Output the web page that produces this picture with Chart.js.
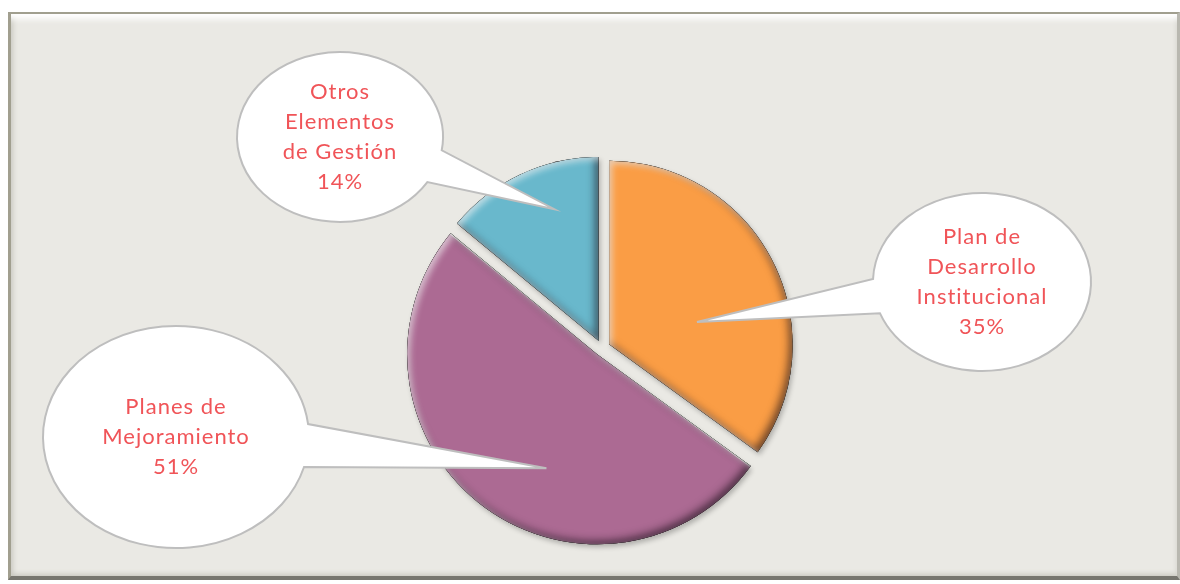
<!DOCTYPE html>
<html>
<head>
<meta charset="utf-8">
<script src="https://cdn.jsdelivr.net/npm/chart.js@4/dist/chart.umd.min.js"></script>
<style>
  html, body { margin: 0; padding: 0; background: #fff; }
  body { width: 1180px; height: 584px; position: relative; overflow: hidden; }
  .frame {
    position: absolute; left: 8px; top: 12px; width: 1166px; height: 562px;
    background: #EAE9E4;
    border-top: 2px solid #A19F8F;
    border-left: 3px solid #A19F8F;
    border-right: 3px solid #B9B8B0;
    border-bottom: 4px solid #77766F;
    box-shadow: inset 0 10px 6px -5px #fff, inset 6px 0 5px -4px #C9C8C0, inset -4px 0 4px -3px #D6D5CF, inset 0 -6px 5px -4px #C9C8C0;
  }
  canvas { position: absolute; left: 0; top: 0; }
</style>
</head>
<body>
<div class="frame"></div>
<canvas id="pieChart" width="1180" height="584"></canvas>
<script>
const labels = ['Plan de Desarrollo Institucional', 'Planes de Mejoramiento', 'Otros Elementos de Gestión'];
const labelLines = [['Plan de', 'Desarrollo', 'Institucional'], ['Planes de', 'Mejoramiento'], ['Otros', 'Elementos', 'de Gestión']];
const shares = [35, 51, 14];
const sliceColors = ['#FA9D45', '#AC6A93', '#69B8CC'];

const TEXT_COLOR = '#F05458';
const FONT = '400 22px Lato, "Open Sans", sans-serif';

// bubble layout for each slice (same order as labels)
const bubbles = [
    { cx: 982, cy: 282, rx: 109, ry: 89,  base: [159.5, 182], tipShift: 12.7,  tipDist: 0.494 },
    { cx: 176, cy: 437, rx: 133, ry: 111, base: [-6.7, 15.7], tipShift: -13.8, tipDist: 0.656 },
    { cx: 340, cy: 137, rx: 103, ry: 85,  base: [9, 32],      tipShift: 6.6,   tipDist: 0.755 }
];

function slicePath(arc) {
    const p = arc.getProps(['x', 'y', 'startAngle', 'endAngle', 'outerRadius'], true);
    const off = (arc.options.offset || 0) / 4;
    const mid = (p.startAngle + p.endAngle) / 2;
    const fix = 1 - Math.sin(Math.min(Math.PI, p.endAngle - p.startAngle));
    const r = p.outerRadius + off * fix;
    const cx = p.x + Math.cos(mid) * off;
    const cy = p.y + Math.sin(mid) * off;
    return { cx, cy, r, start: p.startAngle, end: p.endAngle, mid };
}

const bevelPlugin = {
    id: 'bevel',
    beforeDatasetsDraw(chart) {
        const ctx = chart.ctx;
        ctx.save();
        ctx.shadowColor = 'rgba(0,0,0,0.25)';
        ctx.shadowBlur = 5;
        ctx.shadowOffsetX = 2;
        ctx.shadowOffsetY = 3;
    },
    afterDatasetsDraw(chart) {
        const ctx = chart.ctx;
        ctx.restore();
        chart.getDatasetMeta(0).data.forEach(arc => {
            const s = slicePath(arc);
            const shape = new Path2D();
            shape.moveTo(s.cx, s.cy);
            shape.arc(s.cx, s.cy, s.r, s.start, s.end);
            shape.closePath();
            const hole = new Path2D();
            hole.rect(-2000, -2000, 5000, 5000);
            hole.moveTo(s.cx, s.cy);
            hole.arc(s.cx, s.cy, s.r, s.start, s.end);
            hole.closePath();

            ctx.save();
            ctx.clip(shape);
            ctx.fillStyle = '#000';
            // dark edge, lower right
            ctx.shadowColor = 'rgba(20,10,20,0.65)';
            ctx.shadowBlur = 9;
            ctx.shadowOffsetX = -3;
            ctx.shadowOffsetY = -3;
            ctx.fill(hole, 'evenodd');
            // light edge, upper left
            ctx.shadowColor = 'rgba(255,255,255,0.6)';
            ctx.shadowBlur = 6;
            ctx.shadowOffsetX = 3;
            ctx.shadowOffsetY = 3;
            ctx.fill(hole, 'evenodd');
            ctx.restore();
        });
    }
};

const calloutPlugin = {
    id: 'callouts',
    afterDraw(chart) {
        const ctx = chart.ctx;
        const arcs = chart.getDatasetMeta(0).data;
        bubbles.forEach((b, i) => {
            const s = slicePath(arcs[i]);
            const ang = s.mid + b.tipShift * Math.PI / 180;
            const tipX = s.cx + Math.cos(ang) * s.r * b.tipDist;
            const tipY = s.cy + Math.sin(ang) * s.r * b.tipDist;
            const a0 = b.base[0] * Math.PI / 180;
            const a1 = b.base[1] * Math.PI / 180;

            ctx.save();
            ctx.beginPath();
            ctx.ellipse(b.cx, b.cy, b.rx, b.ry, 0, a1, a0 + Math.PI * 2);
            ctx.lineTo(tipX, tipY);
            ctx.closePath();
            ctx.fillStyle = '#FFFFFF';
            ctx.fill();
            ctx.lineWidth = 2;
            ctx.strokeStyle = '#BEBEBE';
            ctx.stroke();

            const lines = labelLines[i].concat([shares[i] + '%']);
            const lh = 30;
            ctx.fillStyle = TEXT_COLOR;
            ctx.font = FONT;
            ctx.letterSpacing = '1px';
            ctx.textAlign = 'center';
            ctx.textBaseline = 'middle';
            lines.forEach((t, k) => {
                ctx.fillText(t, b.cx, b.cy + (k - (lines.length - 1) / 2) * lh);
            });
            ctx.restore();
        });
    }
};

const ctx = document.getElementById('pieChart').getContext('2d');
const pieChart = new Chart(ctx, {
    type: 'pie',
    data: {
        labels: labels,
        datasets: [{
            data: shares,
            backgroundColor: sliceColors,
            borderWidth: 0,
            offset: 32,
            hoverOffset: 32
        }]
    },
    options: {
        responsive: false,
        animation: false,
        events: [],
        radius: 182,
        layout: { padding: { left: 24, top: 112, right: 0, bottom: 0 } },
        plugins: {
            legend: { display: false },
            tooltip: { enabled: false }
        }
    },
    plugins: [bevelPlugin, calloutPlugin]
});
</script>
</body>
</html>
